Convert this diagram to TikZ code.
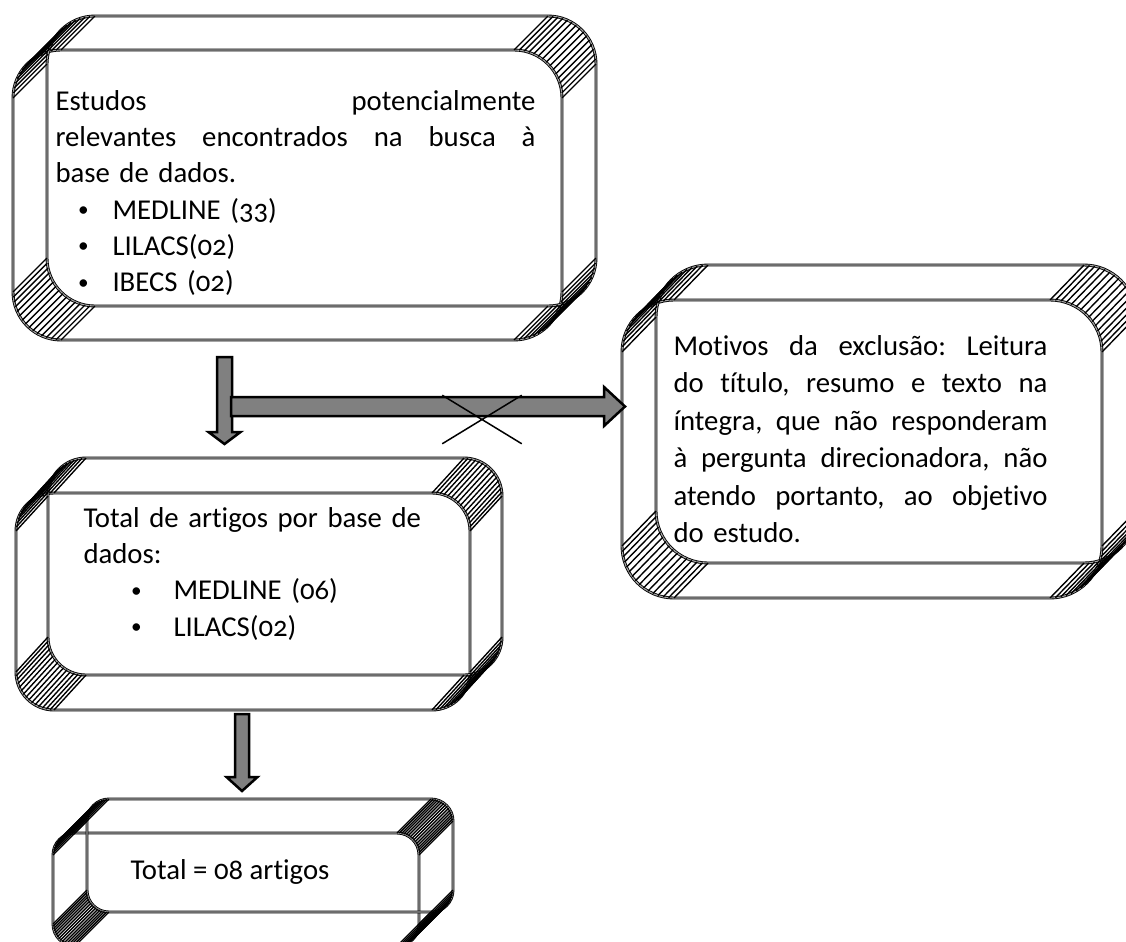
\documentclass[tikz,border=0pt]{standalone}
\usepackage{fontspec}
\setmainfont{Carlito}[Numbers=OldStyle, Ligatures={NoCommon,NoContextual,NoDiscretionary}]
\usetikzlibrary{calc,shapes.misc}
\newcommand{\bola}{\raisebox{1pt}{\fontsize{8.5}{8.5}\selectfont\textbullet}}
\newcommand{\linha}[2]{\makebox[#1][s]{\frenchspacing\spaceskip=0.23em plus 1fil #2}}

\begin{document}
\begin{tikzpicture}[x=0.4pt, y=-0.4pt,
		borda/.style={line width=0.35pt, double=gray!70, double distance=0.45pt},
		hach/.style={line width=0.55pt},
		txt/.style={anchor=north west, inner sep=0pt, align=left, font=\fontsize{11.5}{14.5}\selectfont},
		seta/.style n args={3}{draw, fill=gray, line width=1pt, to path={
				($(\tikztotarget)!#3!(\tikztostart)$) coordinate (cauda)
				($(\tikztostart)!#1!-90:(\tikztotarget)$) -- ($(cauda)!#1!-90:(\tikztotarget)$)
				-- ($(cauda)!#2!-90:(\tikztotarget)$) -- (\tikztotarget)
				-- ($(cauda)!#2!90:(\tikztotarget)$) -- ($(cauda)!#1!90:(\tikztotarget)$)
				-- ($(\tikztostart)!#1!90:(\tikztotarget)$) -- cycle}}]
		\useasboundingbox (0,0) rectangle (1126,941);
		\clip (0,0) rectangle (1126,941);

		\foreach \xa/\ya/\xb/\yb/\dx/\dy/\r in {13/50/562/340/34/-34/48, 16/493/470/710/32/-35/38, 622/300/1102/598/34/-35/52, 53/833/419/946/34/-34/22} {
			\pgfmathsetlengthmacro\raio{\r*0.4pt}
			\draw[borda, rounded corners=\raio] (\xa,\ya) rectangle (\xb,\yb);
			\draw[borda, rounded corners=\raio] ({\xa+\dx},{\ya+\dy}) rectangle ({\xb+\dx},{\yb+\dy});
			\foreach \sx/\sy in {-1/-1,1/-1,-1/1,1/1}
				\foreach \ang in {0,6,...,90}
					\draw[hach] ({(\xa+\xb)/2+\sx*((\xb-\xa)/2-\r+\r*cos(\ang))},{(\ya+\yb)/2+\sy*((\yb-\ya)/2-\r+\r*sin(\ang))}) -- ++(\dx,\dy);
		}

		\node[txt, text width=192pt] (busca) at (55,90) {\linha{192pt}{Estudos potencialmente}\\
			\linha{192pt}{relevantes encontrados na busca à}\\
			base de dados.\\
			\hspace*{9pt}\makebox[13.8pt][l]{\bola}MEDLINE (33)\\
			\hspace*{9pt}\makebox[13.8pt][l]{\bola}LILACS(02)\\
			\hspace*{9pt}\makebox[13.8pt][l]{\bola}IBECS (02)};
		\node[txt, text width=150pt] (total) at (83,507) {Total de artigos por base de\\
			dados:\\
			\hspace*{19pt}\makebox[17pt][l]{\bola}MEDLINE (06)\\
			\hspace*{19pt}\makebox[17pt][l]{\bola}LILACS(02)};
		\node[txt, text width=149.6pt, font=\fontsize{11.5}{15}\selectfont] (motivos) at (673,335) {\linha{149.6pt}{Motivos da exclusão: Leitura}\\
			\linha{149.6pt}{do título, resumo e texto na}\\
			\linha{149.6pt}{íntegra, que não responderam}\\
			\linha{149.6pt}{à pergunta direcionadora, não}\\
			\linha{149.6pt}{atendo portanto, ao objetivo}\\
			do estudo.};
		\node[txt] (final) at (130,859) {Total = 08 artigos};

		\coordinate (s1) at (224.5,357);
		\coordinate (t1) at (224.5,444);
		\coordinate (s2) at (231,406.5);
		\coordinate (t2) at (625,406.5);
		\coordinate (s3) at (242,714);
		\coordinate (t3) at (242,791);

		\draw[seta={3pt}{6.4pt}{4.8pt}] (s1) to (t1);
		\draw[seta={3.8pt}{7.8pt}{8.4pt}] (s2) to (t2);
		\draw[seta={2.8pt}{6.2pt}{5.6pt}] (s3) to (t3);

		\node[draw, cross out, line width=0.6pt, minimum width=31.2pt, minimum height=18.8pt, inner sep=0pt] (corte) at (482,419.5) {};
\end{tikzpicture}
\end{document}
